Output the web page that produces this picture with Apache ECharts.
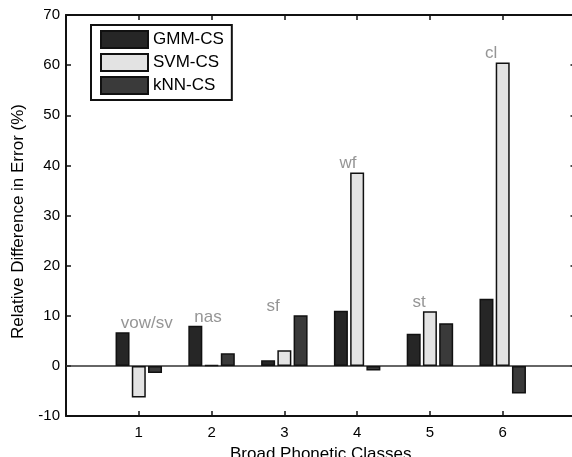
<!DOCTYPE html>
<html>
<head>
<meta charset="utf-8">
<script src="https://cdn.jsdelivr.net/npm/echarts@6/dist/echarts.min.js"></script>
<style>
  html, body { margin: 0; padding: 0; background: #fff; }
  #main { width: 572px; height: 457px; }
</style>
</head>
<body>
<div id="main"></div>
<script>
var chartDom = document.getElementById('main');
var myChart = echarts.init(chartDom);
var option;

// phonetic class index on the x axis
const classes = [1, 2, 3, 4, 5, 6];
const gmmCS = [6.7, 8.0, 1.1, 11.0, 6.4, 13.4];
const svmCS = [-6.3, 0.1, 3.1, 38.6, 10.9, 60.5];
const knnCS = [-1.4, 2.5, 10.1, -0.9, 8.5, -5.5];

// annotation text and where it sits (data units)
const noteNames = ['vow/sv', 'nas', 'sf', 'wf', 'st', 'cl'];
const noteX = [1.11, 1.95, 2.845, 3.875, 4.85, 5.84];
const noteY = [8.4, 9.7, 11.9, 40.4, 12.6, 62.3];

const font = 'Liberation Sans, Arial, sans-serif';

function pairs(vals) {
    return classes.map(function (c, i) { return [c, vals[i]]; });
}

function barSeries(name, vals, color) {
    return {
	name: name,
	type: 'bar',
	data: pairs(vals),
	barWidth: 14,
	barGap: '16%',
	itemStyle: { color: color, borderColor: '#111', borderWidth: 1.5 },
	z: 3
    };
}

const knn = barSeries('kNN-CS', knnCS, '#3a3a3a');
knn.markLine = {
    silent: true,
    symbol: 'none',
    label: { show: false },
    lineStyle: { color: '#333', width: 1.5, type: 'solid' },
    data: [{ yAxis: 0 }],
    z: 1
};

option = {
    animation: false,
    backgroundColor: '#fff',
    grid: { left: 66, top: 15, width: 509.5, height: 401, outerBoundsMode: 'none', containLabel: false },
    legend: {
	left: 91,
	top: 25,
	orient: 'vertical',
	icon: 'rect',
	itemWidth: 47,
	itemHeight: 17,
	itemGap: 4,
	padding: [5, 8, 5, 9],
	borderColor: '#111',
	borderWidth: 2,
	backgroundColor: '#fff',
	textStyle: { fontFamily: font, fontSize: 17, color: '#000' },
	data: ['GMM-CS', 'SVM-CS', 'kNN-CS']
    },
    xAxis: [
	{
	    type: 'value',
	    min: 0,
	    max: 7,
	    interval: 1,
	    name: 'Broad Phonetic Classes',
	    nameLocation: 'middle',
	    nameGap: 30,
	    nameTextStyle: { fontFamily: font, fontSize: 17, color: '#000' },
	    splitLine: { show: false },
	    axisLine: { onZero: false, lineStyle: { color: '#111', width: 2 } },
	    axisTick: { inside: true, length: 5, lineStyle: { color: '#111', width: 1.5 } },
	    axisLabel: {
		fontFamily: font, fontSize: 15, color: '#000', margin: 9,
		formatter: function (v) { return (v >= 1 && v <= 6) ? String(v) : ''; }
	    }
	},
	{
	    type: 'value',
	    position: 'top',
	    min: 0,
	    max: 7,
	    interval: 1,
	    splitLine: { show: false },
	    axisLine: { onZero: false, lineStyle: { color: '#111', width: 2 } },
	    axisTick: { inside: true, length: 5, lineStyle: { color: '#111', width: 1.5 } },
	    axisLabel: { show: false }
	}
    ],
    yAxis: [
	{
	    type: 'value',
	    min: -10,
	    max: 70,
	    interval: 10,
	    name: 'Relative Difference in Error (%)',
	    nameLocation: 'middle',
	    nameGap: 39,
	    nameTextStyle: { fontFamily: font, fontSize: 17, color: '#000', padding: [0, 12, 0, 0] },
	    splitLine: { show: false },
	    axisLine: { onZero: false, lineStyle: { color: '#111', width: 2 } },
	    axisTick: { inside: true, length: 5, lineStyle: { color: '#111', width: 1.5 } },
	    axisLabel: { fontFamily: font, fontSize: 15, color: '#000', margin: 6 }
	},
	{
	    type: 'value',
	    position: 'right',
	    min: -10,
	    max: 70,
	    interval: 10,
	    splitLine: { show: false },
	    axisLine: { onZero: false, lineStyle: { color: '#111', width: 2 } },
	    axisTick: { inside: true, length: 5, lineStyle: { color: '#111', width: 1.5 } },
	    axisLabel: { show: false }
	}
    ],
    series: [
	barSeries('GMM-CS', gmmCS, '#262626'),
	barSeries('SVM-CS', svmCS, '#e3e3e3'),
	knn,
	{
	    name: 'notes',
	    type: 'scatter',
	    symbolSize: 0,
	    silent: true,
	    z: 5,
	    data: noteNames.map(function (n, i) {
		return { name: n, value: [noteX[i], noteY[i]] };
	    }),
	    label: {
		show: true,
		position: 'inside',
		formatter: '{b}',
		fontFamily: font,
		fontSize: 17,
		color: '#7a7a7a'
	    }
	}
    ]
};

option && myChart.setOption(option);
</script>
</body>
</html>
